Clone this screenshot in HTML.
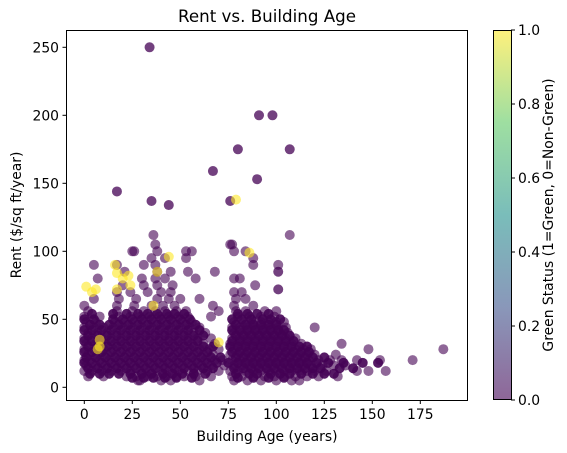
<!DOCTYPE html>
<html><head><meta charset="utf-8"><style>
body{margin:0;background:#fff;}
svg{display:block;font-family:"DejaVu Sans","Liberation Sans",sans-serif;}
</style></head><body>
<svg id="chart" width="567" height="453" viewBox="0 0 567 453">
<defs><linearGradient id="vir" x1="0" y1="1" x2="0" y2="0">
<stop offset="0" stop-color="#440154"/><stop offset="0.25" stop-color="#3b528b"/><stop offset="0.5" stop-color="#21918c"/><stop offset="0.75" stop-color="#5ec962"/><stop offset="1" stop-color="#fde725"/></linearGradient>
<clipPath id="clip"><rect x="66" y="30" width="402" height="370"/></clipPath></defs>
<text x="267" y="22" font-size="16.7" text-anchor="middle">Rent vs. Building Age</text>
<g id="pts" clip-path="url(#clip)"></g>
<rect x="66.5" y="30.5" width="401" height="370" fill="none" stroke="#000" stroke-width="1"/>
<g id="xt"></g>
<g id="yt"></g>
<text x="267" y="441" font-size="13.9" text-anchor="middle">Building Age (years)</text>
<text transform="translate(21,215) rotate(-90)" font-size="13.9" text-anchor="middle">Rent ($/sq ft/year)</text>
<rect x="493" y="30" width="18" height="370" fill="url(#vir)" opacity="0.6"/>
<rect x="493.5" y="30.5" width="18" height="369" fill="none" stroke="#000" stroke-width="1"/>
<g id="ct"></g>
<text transform="translate(553,215) rotate(-90)" font-size="13.9" text-anchor="middle">Green Status (1=Green, 0=Non-Green)</text>
</svg>
<script>
const xTicks=[0,25,50,75,100,125,150,175];
const yTicks=[0,50,100,150,200,250];
const cTicks=["0.0","0.2","0.4","0.6","0.8","1.0"];
const rowRent=[5,8,12,16,20,24,28,32,36,40,44,48,52,56,60,65,70,75,80,85,90,95,100,105,112];
const rowAges=[
[28,29,40,45,60,78,85,92,100,108,112],
[2,10,22,27,33,38,43,48,52,58,66,77,82,88,94,99,104,110,116,122,132],
[0,4,9,14,19,24,29,34,39,44,49,54,59,64,70,76,80,84,88,92,96,100,104,108,112,116,120,126,142,148,157],
[1,6,11,16,21,26,31,36,41,46,51,56,61,66,73,78,82,86,90,94,98,102,106,110,114,118,124,130,136],
[0,3,8,13,18,23,28,33,38,43,48,53,58,63,68,72,77,81,85,89,93,97,101,105,109,113,117,122,128,134,142,154,171],
[2,7,12,17,22,27,32,37,42,47,52,57,62,67,76,80,84,88,92,96,100,104,108,112,116,120,131],
[0,5,10,15,20,25,30,35,40,45,50,55,60,65,70,78,82,86,90,94,98,102,106,110,114,118,148,187],
[1,6,11,16,21,26,31,36,41,46,51,56,62,68,76,80,84,88,92,96,100,104,108,113,134],
[0,4,9,14,19,24,29,34,39,44,49,54,59,66,77,81,85,89,93,97,101,105,110],
[2,7,12,17,22,27,32,37,42,47,52,57,63,78,82,86,90,94,98,102,106],
[0,5,10,15,20,25,30,35,40,45,50,55,60,77,81,85,89,93,97,101,105,120],
[1,6,16,21,26,31,36,41,46,51,56,78,83,88,92,96,100,104],
[0,8,18,24,29,34,39,44,49,54,66,80,86,92,99],
[2,17,25,31,37,42,48,53,70,79,84,94,100],
[0,17,26,35,41,47,67,78,88],
[5,18,27,38,44,50,60,79,84],
[17,24,33,40,45,78,82],
[20,31,38,46,89],
[7,30,37,42,58,81,78],
[21,38,45,54,68],
[5,17,31,37,88,101],
[35,42,53,88],
[25,26,38,53,56,78,84],
[37,77,76],
[107,36]];
const denseRent=[7,10,14,18,22,26,30,34,38,42,46,50,54];
const denseAges=[
[25,31,36,42,48,56,80,88,96,104],
[3,8,13,18,24,30,35,41,46,51,57,63,79,86,90,97,102,107,113,119,125,130],
[2,7,12,17,22,27,32,37,42,47,52,57,62,67,78,83,87,91,95,99,103,107,111,115,119,123,133,140],
[0,4,9,14,19,24,29,34,39,44,49,54,59,64,69,75,80,84,88,92,96,100,104,108,112,116,121,127,135,145,153],
[1,6,11,16,21,26,31,36,41,46,51,56,61,66,71,79,83,87,91,95,99,103,107,111,115,119,125],
[0,4,9,14,19,24,29,34,39,44,49,54,59,64,77,81,85,89,93,97,101,105,109,113,117],
[2,7,12,17,22,27,32,37,42,47,52,57,62,67,76,80,84,88,92,96,100,104,108,112,116],
[0,4,9,14,19,24,29,34,39,44,49,54,59,77,81,85,89,93,97,101,105,109],
[2,7,12,17,22,27,32,37,42,47,52,57,62,79,83,87,91,95,99,103,107],
[0,4,9,14,19,24,29,34,39,44,49,54,60,77,81,85,89,93,97,101,104],
[3,8,13,18,23,28,33,38,43,48,53,58,79,84,88,92,96,100],
[0,5,15,20,25,30,35,40,45,50,55,77,82,87,93,97,102],
[4,15,22,28,33,38,43,47,52,80,85,90,96]];
const outAge=[34,91,98,80,107,67,90,17,35,44,76,101,101];
const outRent=[250,200,200,175,175,159,153,144,137,134,137,85,72];
const greenAge=[1,4,6,17,20,23,8,8,17,44,79,86,70,38,36,16,7,24];
const greenRent=[74,70,72,84,80,82,35,30,72,96,138,99,33,85,60,90,28,75];
const X=v=>84.3+v*1.92, Y=v=>387.3-v*1.36;
const NS="http://www.w3.org/2000/svg";
const g=document.getElementById('pts');
function dot(a,r,col,op){const c=document.createElementNS(NS,'circle');
c.setAttribute('cx',X(a));c.setAttribute('cy',Y(r));c.setAttribute('r',5);
c.setAttribute('fill',col);c.setAttribute('fill-opacity',op);


g.appendChild(c);}
rowRent.forEach((r,i)=>rowAges[i].forEach(a=>dot(a,r,'#440154',0.6)));
denseRent.forEach((r,i)=>denseAges[i].forEach(a=>dot(a,r,'#440154',0.9)));
outAge.forEach((a,i)=>dot(a,outRent[i],'#440154',0.75));
greenAge.forEach((a,i)=>dot(a,greenRent[i],'#fde725',0.6));
const xt=document.getElementById('xt');
xTicks.forEach(t=>{const x=X(t);
const l=document.createElementNS(NS,'line');l.setAttribute('x1',x);l.setAttribute('x2',x);l.setAttribute('y1',400.5);l.setAttribute('y2',404);l.setAttribute('stroke','#000');


xt.appendChild(l);
const s=document.createElementNS(NS,'text');s.setAttribute('x',x);s.setAttribute('y',419);s.setAttribute('font-size','13.9');s.setAttribute('text-anchor','middle');s.textContent=t;


xt.appendChild(s);});
const yt=document.getElementById('yt');
yTicks.forEach(t=>{const y=Y(t);
const l=document.createElementNS(NS,'line');l.setAttribute('x1',62.5);l.setAttribute('x2',66);l.setAttribute('y1',y);l.setAttribute('y2',y);l.setAttribute('stroke','#000');


yt.appendChild(l);
const s=document.createElementNS(NS,'text');s.setAttribute('x',59);s.setAttribute('y',y+5);s.setAttribute('font-size','13.9');s.setAttribute('text-anchor','end');s.textContent=t;


yt.appendChild(s);});
const ct=document.getElementById('ct');
cTicks.forEach((t,i)=>{const y=400-i*74;
const l=document.createElementNS(NS,'line');l.setAttribute('x1',511);l.setAttribute('x2',515);l.setAttribute('y1',y);l.setAttribute('y2',y);l.setAttribute('stroke','#000');


ct.appendChild(l);
const s=document.createElementNS(NS,'text');s.setAttribute('x',518);s.setAttribute('y',y+5);s.setAttribute('font-size','13.9');s.textContent=t;


ct.appendChild(s);});
</script>
</body></html>
